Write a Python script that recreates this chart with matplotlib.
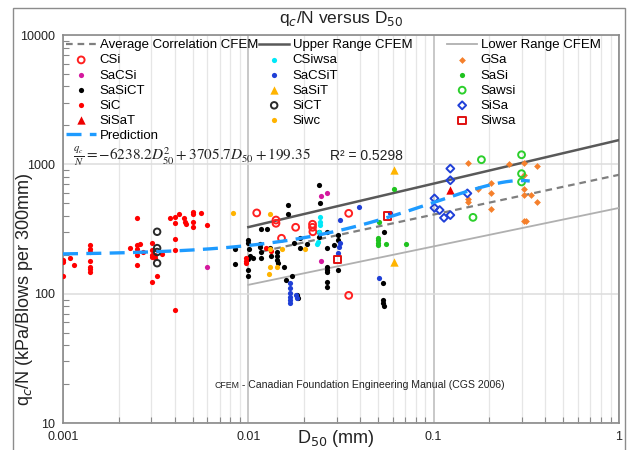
import numpy as np
import matplotlib
matplotlib.use("Agg")
import matplotlib.pyplot as plt
from matplotlib.patches import Rectangle
from matplotlib.legend import Legend
from matplotlib.ticker import FixedLocator, FixedFormatter, LogLocator, NullFormatter

plt.rcParams['font.family'] = ['Liberation Sans', 'DejaVu Sans']

# ---------------------------------------------------------------- data
# CFEM reference lines (D50 in mm, qc/N in kPa per blow/300 mm)
avg_d, avg_q = [0.012, 1.0], [213, 830]
upper_d, upper_q = [0.01, 1.0], [327, 1540]
lower_d, lower_q = [0.01, 1.0], [117, 460]

# fitted prediction qc/N = a2*D^2 + a1*D + a0
pred_a2, pred_a1, pred_a0 = -6238.2, 3705.7, 199.35
pred_dmin, pred_dmax = 0.001, 0.33
r_squared = 0.5298

csi_d = [0.0111, 0.0141, 0.0141, 0.0180, 0.0151, 0.0222, 0.0222, 0.0223, 0.0348, 0.0348]
csi_q = [421, 371, 350, 326, 268, 344, 326, 301, 418, 97]

sacsi_d = [0.0060, 0.0248, 0.0265, 0.0246]
sacsi_q = [162, 568, 596, 180]

sasict_d = [0.0085, 0.0085, 0.0100, 0.0100, 0.0101, 0.0102, 0.0100, 0.0100, 0.0100, 0.0106,
            0.0117, 0.0126, 0.0116, 0.0116, 0.0117, 0.0117, 0.0131, 0.0132, 0.0143, 0.0143,
            0.0143, 0.0144, 0.0156, 0.0159, 0.0163, 0.0163, 0.0173, 0.0177, 0.0183, 0.0185,
            0.0190, 0.0190, 0.0207, 0.0241, 0.0243, 0.0241, 0.0241, 0.0265, 0.0265, 0.0266,
            0.0266, 0.0266, 0.0266, 0.0266, 0.0291, 0.0305, 0.0305, 0.0305, 0.0542, 0.0536,
            0.0536, 0.0536, 0.0540]
sasict_q = [222, 170, 262, 245, 221, 194, 186, 153, 137, 190,
            316, 316, 243, 229, 211, 188, 227, 196, 211, 196,
            183, 172, 160, 128, 484, 410, 137, 248, 98, 93,
            268, 225, 243, 689, 504, 301, 276, 301, 225, 160,
            153, 146, 122, 112, 238, 285, 260, 153, 301, 121,
            89, 84, 80]

sic_d = [0.00100, 0.00100, 0.00100, 0.00109, 0.00115, 0.00140, 0.00140, 0.00140, 0.00140,
         0.00140, 0.00140, 0.00140, 0.00250, 0.00231, 0.00250, 0.00261, 0.00250, 0.00270,
         0.00250, 0.00250, 0.00302, 0.00302, 0.00302, 0.00302, 0.00315, 0.00315, 0.00342,
         0.00322, 0.00302, 0.00400, 0.00400, 0.00400, 0.00380, 0.00404, 0.00420, 0.00400,
         0.00448, 0.00457, 0.00462, 0.00504, 0.00504, 0.00504, 0.00504, 0.00552, 0.00600,
         0.00966, 0.00966, 0.00975, 0.0124, 0.0133]
sic_q = [183, 176, 137, 189, 167, 236, 222, 211, 180,
         162, 155, 148, 382, 225, 238, 241, 221, 211,
         200, 166, 248, 218, 200, 191, 200, 188, 202,
         136, 124, 74.5, 264, 218, 382, 393, 412, 353,
         382, 360, 345, 429, 410, 360, 329, 418, 340,
         190, 180, 172, 225, 212]

sisat_d = [0.123]
sisat_q = [638]

csiwsa_d = [0.0244, 0.0245, 0.0243, 0.0240, 0.0238, 0.0236]
csiwsa_q = [393, 360, 340, 301, 252, 243]

sacsit_d = [0.0168, 0.0168, 0.0168, 0.0167, 0.0168, 0.0167, 0.0180, 0.0182, 0.0312, 0.0312,
            0.0310, 0.0305, 0.0394, 0.0509, 0.0580]
sacsit_q = [121, 111, 101, 95, 90, 84, 97, 92, 371, 248,
            229, 208, 464, 132, 420]

sasit_d = [0.061, 0.061]
sasit_q = [910, 177]

sict_d = [0.00322, 0.00322, 0.00322, 0.00322]
sict_q = [301, 225, 210, 172]

siwc_d = [0.00826, 0.0131, 0.0131, 0.0151, 0.0202, 0.0131, 0.0130, 0.0142]
siwc_q = [418, 412, 221, 221, 221, 160, 143, 160]

gsa_d = [0.1535, 0.2546, 0.308, 0.360, 0.308, 0.203, 0.203, 0.203, 0.174, 0.1535,
         0.1535, 0.308, 0.308, 0.337, 0.360, 0.308, 0.314]
gsa_q = [1023, 1010, 1023, 971, 822, 718, 601, 448, 650, 538,
         513, 650, 578, 578, 513, 366, 366]

sasi_d = [0.061, 0.0509, 0.0499, 0.0499, 0.0499, 0.0499, 0.0553, 0.0711]
sasi_q = [650, 360, 271, 260, 248, 238, 241, 241]

sawsi_d = [0.181, 0.298, 0.298, 0.298, 0.163]
sawsi_q = [1086, 1186, 847, 731, 389]

sisa_d = [0.123, 0.123, 0.101, 0.101, 0.1077, 0.1137, 0.123, 0.152]
sisa_q = [927, 753, 545, 461, 443, 386, 405, 596]

siwsa_d = [0.0303, 0.0565]
siwsa_q = [183, 398]

# ---------------------------------------------------------------- figure
W, H = 628, 450
fig = plt.figure(figsize=(W / 100, H / 100), dpi=100)
fig.patch.set_facecolor('white')

# outer frame around the whole chart
fig.add_artist(Rectangle((13 / W, -0.02), (625 - 13) / W, 1.02 - 8 / H,
                         transform=fig.transFigure, fill=False,
                         edgecolor='#8c8c8c', linewidth=1.0))

ax_l, ax_r, ax_t, ax_b = 63, 619, 35, 423
ax = fig.add_axes([ax_l / W, 1 - ax_b / H, (ax_r - ax_l) / W, (ax_b - ax_t) / H])
ax.set_xscale('log')
ax.set_yscale('log')
ax.set_xlim(0.001, 1)
ax.set_ylim(10, 10000)

# ticks and grid
ax.xaxis.set_major_locator(FixedLocator([0.001, 0.01, 0.1, 1]))
ax.xaxis.set_major_formatter(FixedFormatter(['0.001', '0.01', '0.1', '1']))
ax.xaxis.set_minor_locator(LogLocator(base=10, subs=np.arange(2, 10)))
ax.xaxis.set_minor_formatter(NullFormatter())
ax.yaxis.set_major_locator(FixedLocator([10, 100, 1000, 10000]))
ax.yaxis.set_major_formatter(FixedFormatter(['10', '100', '1000', '10000']))
ax.yaxis.set_minor_locator(LogLocator(base=10, subs=np.arange(2, 10)))
ax.yaxis.set_minor_formatter(NullFormatter())

ax.grid(which='major', axis='x', color='#c4c4c4', linewidth=1.3, zorder=0)
ax.grid(which='minor', axis='x', color='#e6e6e6', linewidth=0.9, zorder=0)
ax.grid(which='major', axis='y', color='#dcdcdc', linewidth=1.1, zorder=0)
ax.set_axisbelow(True)

ax.tick_params(which='major', length=0, labelsize=9, pad=6, colors='#222222')
ax.tick_params(which='minor', direction='in', length=4, width=0.8, color='#888888')
for s in ax.spines.values():
    s.set_color('#8a8a8a')
    s.set_linewidth(1.2)

# reference lines
h_avg, = ax.plot(avg_d, avg_q, color='#7f7f7f', lw=1.6, ls=(0, (3, 2.2)),
                 label='Average Correlation CFEM', zorder=3)
h_up, = ax.plot(upper_d, upper_q, color='#595959', lw=1.8,
                label='Upper Range CFEM', zorder=3)
h_lo, = ax.plot(lower_d, lower_q, color='#b0b0b0', lw=1.3,
                label='Lower Range CFEM', zorder=3)

ms = 14
def dots(d, q, color, label, marker='o', size=ms):
    return ax.scatter(d, q, s=size, c=color, marker=marker, linewidths=0,
                      label=label, zorder=4)

def rings(d, q, color, label, marker='o', size=24):
    return ax.scatter(d, q, s=size, facecolors='none', edgecolors=color,
                      marker=marker, linewidths=1.4, label=label, zorder=4)

h_csi = rings(csi_d, csi_q, '#ff2020', 'CSi')
h_sacsi = dots(sacsi_d, sacsi_q, '#d4189e', 'SaCSi')
h_sasict = dots(sasict_d, sasict_q, '#000000', 'SaSiCT')
h_sic = dots(sic_d, sic_q, '#ff0000', 'SiC')
h_sisat = dots(sisat_d, sisat_q, '#ee0000', 'SiSaT', marker='^', size=36)
h_csiwsa = dots(csiwsa_d, csiwsa_q, '#00e8f8', 'CSiwsa')
h_sacsit = dots(sacsit_d, sacsit_q, '#1f3fd6', 'SaCSiT')
h_sasit = dots(sasit_d, sasit_q, '#ffb400', 'SaSiT', marker='^', size=36)
h_sict = rings(sict_d, sict_q, '#2a2a2a', 'SiCT', size=22)
h_siwc = dots(siwc_d, siwc_q, '#ffb300', 'Siwc')
h_gsa = dots(gsa_d, gsa_q, '#f5802c', 'GSa', marker='D', size=12)
h_sasi = dots(sasi_d, sasi_q, '#1fc21f', 'SaSi')
h_sawsi = rings(sawsi_d, sawsi_q, '#2ccf2c', 'Sawsi')
h_sisa = rings(sisa_d, sisa_q, '#2040d8', 'SiSa', marker='D', size=16)
h_siwsa = rings(siwsa_d, siwsa_q, '#e01010', 'Siwsa', marker='s', size=28)

# prediction curve from the fitted polynomial
d_fit = np.geomspace(pred_dmin, pred_dmax, 200)
q_fit = pred_a2 * d_fit ** 2 + pred_a1 * d_fit + pred_a0
h_pred, = ax.plot(d_fit, q_fit, color='#1e9bff', lw=2.4, ls=(0, (4.5, 2.5)),
                  label='Prediction', zorder=5)

# ---------------------------------------------------------------- legends
def leg(handles, x_px, y_px):
    lg = Legend(ax, handles, [h.get_label() for h in handles], loc='upper left',
                bbox_to_anchor=(x_px / W, 1 - y_px / H),
                bbox_transform=fig.transFigure, frameon=False,
                fontsize=9.5, handlelength=2.3, handletextpad=0.25,
                labelspacing=0.22, borderpad=0, borderaxespad=0,
                scatterpoints=1)
    ax.add_artist(lg)
    return lg

leg([h_avg, h_csi, h_sacsi, h_sasict, h_sic, h_sisat, h_pred], 66, 39)
leg([h_up, h_csiwsa, h_sacsit, h_sasit, h_sict, h_siwc], 259, 39)
leg([h_lo, h_gsa, h_sasi, h_sawsi, h_sisa, h_siwsa], 447, 39)

# fitted equation
fig.text(73 / W, 1 - 157 / H,
         r'$\frac{q_c}{N} = -6238.2D_{50}^{2} + 3705.7D_{50} + 199.35$',
         fontsize=11, math_fontfamily='stix', va='center', ha='left',
         color='#222222')
fig.text(330 / W, 1 - 156 / H, f'R² = {r_squared}', fontsize=10,
         va='center', ha='left', color='#222222')

# note (abbreviation set in smaller capitals)
note = fig.text(505 / W, 1 - 385 / H,
                ' - Canadian Foundation Engineering Manual (CGS 2006)',
                fontsize=7.6, va='center', ha='right', color='#222222')
ax.annotate('CFEM', xy=(0, 0.5), xycoords=note, ha='right', va='center',
            fontsize=6.3, color='#222222')

# titles
ax.set_title(r'q$_c$/N versus D$_{50}$', fontsize=12.5, pad=9, color='#222222')
ax.set_xlabel(r'D$_{50}$ (mm)', fontsize=13, color='#222222')
ax.set_ylabel(r'q$_c$/N (kPa/Blows per 300mm)', fontsize=13, color='#222222')
ax.yaxis.set_label_coords(-0.05, 0.345)
ax.xaxis.set_label_coords(0.49, -0.012)

fig.savefig('out.png', dpi=100)
